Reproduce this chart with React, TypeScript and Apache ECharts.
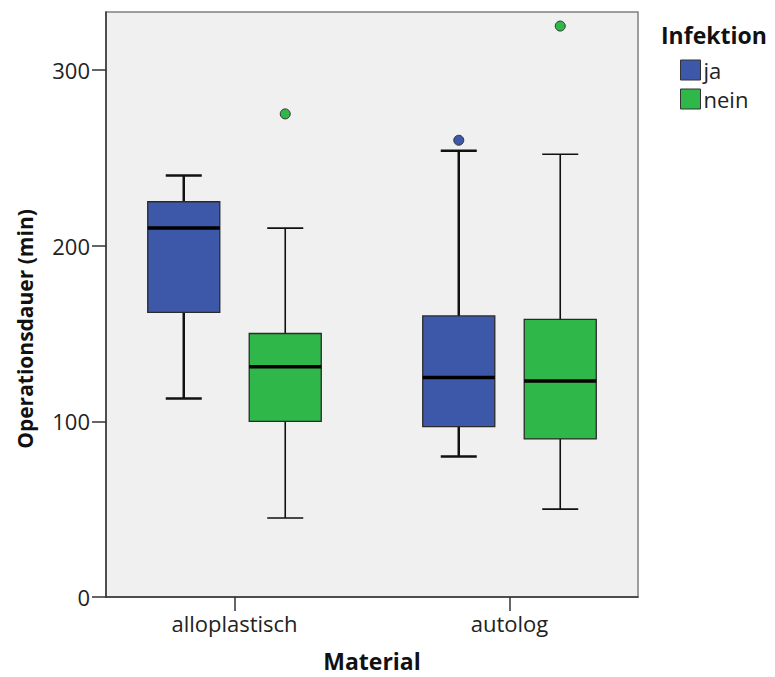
import React, { useEffect, useRef } from 'react';
import * as echarts from 'echarts';

const categories = ['alloplastisch', 'autolog'];
const seriesNames = ['ja', 'nein'];
// [min, Q1, median, Q3, max] per category
const jaBox = [
  [113, 162, 210, 225, 240],
  [80, 97, 125, 160, 254],
];
const neinBox = [
  [45, 100, 131, 150, 210],
  [50, 90, 123, 158, 252],
];
// [category index, value]
const jaOutliers = [[1, 260]];
const neinOutliers = [
  [0, 275],
  [1, 325],
];
const yTicks = [0, 100, 200, 300];
const yMax = 333;

const colors = ['#3e58a9', '#30b74a'];
const FONT = '"Open Sans", "DejaVu Sans", sans-serif';

function makeRender(offsetFrac: number, color: string, whiskerW: number) {
  return (params: any, api: any) => {
    const ci = api.value(0);
    const bw = api.size([1, 0])[0];
    const pMin = api.coord([ci, api.value(1)]);
    const pQ1 = api.coord([ci, api.value(2)]);
    const pMed = api.coord([ci, api.value(3)]);
    const pQ3 = api.coord([ci, api.value(4)]);
    const pMax = api.coord([ci, api.value(5)]);
    const cx = pMin[0] + offsetFrac * bw;
    const boxW = bw * 0.262;
    const capW = boxW / 2;
    const ws = { stroke: '#111', lineWidth: whiskerW };
    return {
      type: 'group',
      children: [
        { type: 'line', shape: { x1: cx, y1: pMax[1], x2: cx, y2: pQ3[1] }, style: ws },
        { type: 'line', shape: { x1: cx, y1: pQ1[1], x2: cx, y2: pMin[1] }, style: ws },
        { type: 'line', shape: { x1: cx - capW / 2, y1: pMax[1], x2: cx + capW / 2, y2: pMax[1] }, style: ws },
        { type: 'line', shape: { x1: cx - capW / 2, y1: pMin[1], x2: cx + capW / 2, y2: pMin[1] }, style: ws },
        {
          type: 'rect',
          shape: { x: cx - boxW / 2, y: pQ3[1], width: boxW, height: pQ1[1] - pQ3[1] },
          style: { fill: color, stroke: '#2a2a2a', lineWidth: 1.3 },
        },
        {
          type: 'line',
          shape: { x1: cx - boxW / 2, y1: pMed[1], x2: cx + boxW / 2, y2: pMed[1] },
          style: { stroke: '#000', lineWidth: 3.5 },
        },
      ],
    };
  };
}

export default function App() {
  const ref = useRef<HTMLDivElement>(null);
  useEffect(() => {
    document.body.style.margin = '0';
    if (!ref.current) return;
    const chart = echarts.init(ref.current, null, { renderer: 'svg' });
    const toData = (boxes: number[][]) => boxes.map((b, i) => [i, ...b]);
    const offset = 0.1845; // fraction of band width
    const bandPx = 275;
    chart.setOption({
      animation: false,
      textStyle: { fontFamily: FONT },
      title: {
        text: 'Infektion',
        left: 661,
        top: 23,
        padding: 0,
        textStyle: { fontSize: 23, fontWeight: 'bold', color: '#111', fontFamily: FONT },
      },
      legend: {
        data: seriesNames,
        orient: 'vertical',
        left: 680,
        top: 59,
        padding: 0,
        itemWidth: 20,
        itemHeight: 20,
        itemGap: 7,
        icon: 'rect',
        itemStyle: { borderColor: '#333', borderWidth: 1 },
        textStyle: { fontSize: 22, color: '#222', fontFamily: FONT, padding: [0, 0, 0, -2] },
      },
      graphic: [
        {
          type: 'text',
          x: 25,
          y: 329,
          rotation: Math.PI / 2,
          style: {
            text: 'Operationsdauer (min)',
            font: 'bold 21px ' + FONT,
            textAlign: 'center',
            textVerticalAlign: 'middle',
            fill: '#111',
          },
        },
      ],
      grid: [
        {
          left: 106,
          top: 12,
          width: 532,
          height: 585,
          show: true,
          backgroundColor: '#f0f0f0',
          borderColor: '#808080',
          borderWidth: 1.5,
        },
        { left: 97, top: 12, width: 550, height: 585, show: false },
      ],
      xAxis: [
        {
          type: 'category',
          gridIndex: 0,
          data: categories,
          axisLine: { show: true, lineStyle: { color: '#333', width: 1.5 } },
          axisTick: { show: false },
          axisLabel: { show: false },
        },
        {
          type: 'category',
          gridIndex: 1,
          data: categories,
          axisLine: { show: false },
          axisTick: { show: true, alignWithLabel: true, length: 14, lineStyle: { color: '#333', width: 1.5 } },
          axisLabel: { fontSize: 22, color: '#222', margin: 15, fontFamily: FONT },
          name: 'Material',
          nameLocation: 'middle',
          nameGap: 52,
          nameTextStyle: { fontSize: 23, fontWeight: 'bold', color: '#111', fontFamily: FONT },
        },
      ],
      yAxis: [
        {
          type: 'value',
          gridIndex: 0,
          min: 0,
          max: yMax,
          interval: 100,
          axisLine: { show: true, lineStyle: { color: '#333', width: 1.5 } },
          axisTick: { show: true, length: 14, customValues: yTicks, lineStyle: { color: '#333', width: 1.5 } },
          axisLabel: { fontSize: 22, color: '#222', margin: 16, customValues: yTicks, fontFamily: FONT },
          splitLine: { show: false },
        },
        { type: 'value', gridIndex: 1, min: 0, max: yMax, show: false, splitLine: { show: false } },
      ],
      series: [
        {
          name: seriesNames[0],
          type: 'custom',
          xAxisIndex: 1,
          yAxisIndex: 1,
          itemStyle: { color: colors[0] },
          encode: { x: 0, y: [1, 2, 3, 4, 5] },
          renderItem: makeRender(-offset, colors[0], 2.5),
          data: toData(jaBox),
        },
        {
          name: seriesNames[1],
          type: 'custom',
          xAxisIndex: 1,
          yAxisIndex: 1,
          itemStyle: { color: colors[1] },
          encode: { x: 0, y: [1, 2, 3, 4, 5] },
          renderItem: makeRender(offset, colors[1], 1.6),
          data: toData(neinBox),
        },
        {
          name: seriesNames[0],
          type: 'scatter',
          xAxisIndex: 1,
          yAxisIndex: 1,
          symbol: 'circle',
          symbolSize: 10,
          symbolOffset: [-offset * bandPx, 0],
          itemStyle: { color: colors[0], borderColor: '#333', borderWidth: 1, opacity: 1 },
          data: jaOutliers,
        },
        {
          name: seriesNames[1],
          type: 'scatter',
          xAxisIndex: 1,
          yAxisIndex: 1,
          symbol: 'circle',
          symbolSize: 10,
          symbolOffset: [offset * bandPx, 0],
          itemStyle: { color: colors[1], borderColor: '#333', borderWidth: 1, opacity: 1 },
          data: neinOutliers,
        },
      ],
    });
    return () => chart.dispose();
  }, []);
  return <div ref={ref} style={{ width: 775, height: 677 }} />;
}
